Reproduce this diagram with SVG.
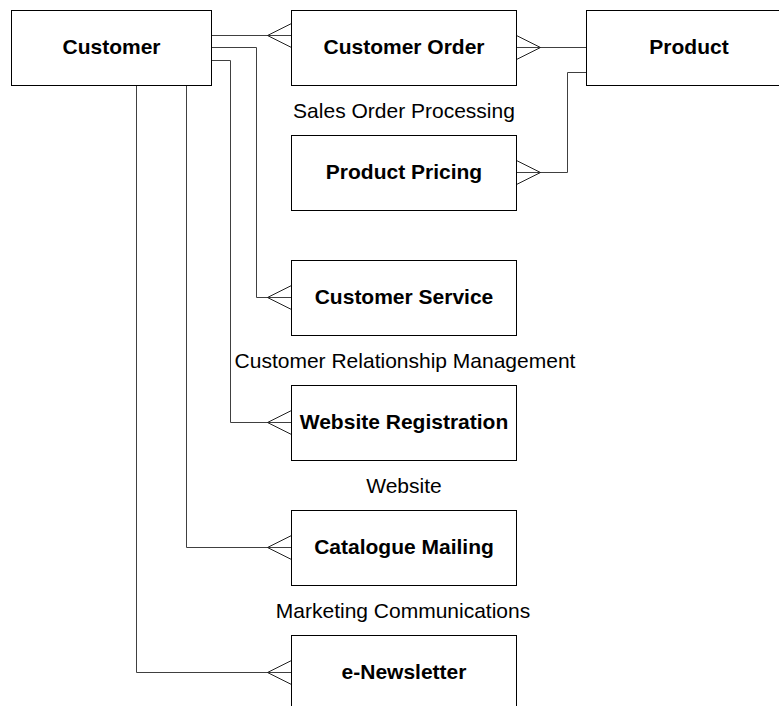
<svg xmlns="http://www.w3.org/2000/svg" width="779" height="706" viewBox="0 0 779 706">
<style>
.box{fill:#fff;stroke:#000;stroke-width:1}
.t{font-family:"Liberation Sans",Arial,sans-serif;font-size:21px;font-weight:bold;text-anchor:middle;fill:#000}
.l{font-family:"Liberation Sans",Arial,sans-serif;font-size:21px;text-anchor:middle;fill:#000}
.c{fill:none;stroke:#404040;stroke-width:1}
.f{fill:none;stroke:#202020;stroke-width:1}
</style>
<rect width="779" height="706" fill="#fff"/>
<g id="connectors">
<polyline class="c" points="211.5,35.5 291.5,35.5"/>
<polyline class="f" points="291.5,23.5 267.5,35.5 291.5,47.5"/>
<polyline class="c" points="211.5,47.5 256.5,47.5 256.5,297.5 291.5,297.5"/>
<polyline class="f" points="291.5,285.5 267.5,297.5 291.5,309.5"/>
<polyline class="c" points="211.5,60.5 230.5,60.5 230.5,422.5 291.5,422.5"/>
<polyline class="f" points="291.5,410.5 267.5,422.5 291.5,434.5"/>
<polyline class="c" points="186.5,85.5 186.5,547.5 291.5,547.5"/>
<polyline class="f" points="291.5,535.5 267.5,547.5 291.5,559.5"/>
<polyline class="c" points="136.5,85.5 136.5,672.5 291.5,672.5"/>
<polyline class="f" points="291.5,660.5 267.5,672.5 291.5,684.5"/>
<polyline class="c" points="516.5,47.5 586.5,47.5"/>
<polyline class="f" points="516.5,35.5 540.5,47.5 516.5,59.5"/>
<polyline class="c" points="516.5,172.5 567.5,172.5 567.5,72.5 586.5,72.5"/>
<polyline class="f" points="516.5,160.5 540.5,172.5 516.5,184.5"/>
</g>
<g id="customer"><rect class="box" x="11.5" y="10.5" width="200" height="75"/><text class="t" x="111.5" y="54">Customer</text></g>
<g id="customer-order"><rect class="box" x="291.5" y="10.5" width="225" height="75"/><text class="t" x="404" y="54">Customer Order</text></g>
<g id="product"><rect class="box" x="586.5" y="10.5" width="205" height="75"/><text class="t" x="689" y="54">Product</text></g>
<g id="product-pricing"><rect class="box" x="291.5" y="135.5" width="225" height="75"/><text class="t" x="404" y="179">Product Pricing</text></g>
<g id="customer-service"><rect class="box" x="291.5" y="260.5" width="225" height="75"/><text class="t" x="404" y="304">Customer Service</text></g>
<g id="website-registration"><rect class="box" x="291.5" y="385.5" width="225" height="75"/><text class="t" x="404" y="429">Website Registration</text></g>
<g id="catalogue-mailing"><rect class="box" x="291.5" y="510.5" width="225" height="75"/><text class="t" x="404" y="554">Catalogue Mailing</text></g>
<g id="e-newsletter"><rect class="box" x="291.5" y="635.5" width="225" height="75"/><text class="t" x="404" y="679">e-Newsletter</text></g>
<g id="labels">
<text class="l" x="404" y="118">Sales Order Processing</text>
<text class="l" x="405" y="368">Customer Relationship Management</text>
<text class="l" x="404" y="493">Website</text>
<text class="l" x="403" y="618">Marketing Communications</text>
</g>
</svg>
